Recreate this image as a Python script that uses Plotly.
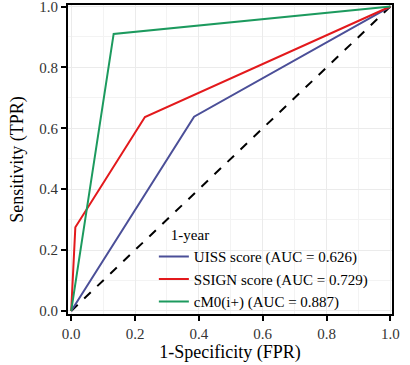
import plotly.graph_objects as go

uiss_fpr = [0.0, 0.385, 1.0]
uiss_tpr = [0.0, 0.638, 1.0]
ssign_fpr = [0.0, 0.013, 0.231, 1.0]
ssign_tpr = [0.0, 0.275, 0.637, 1.0]
cm0_fpr = [0.0, 0.133, 1.0]
cm0_tpr = [0.0, 0.910, 1.0]
ref_line = [0.0, 1.0]

names = ["UISS score (AUC = 0.626)", "SSIGN score (AUC = 0.729)", "cM0(i+) (AUC = 0.887)"]
colors = ["#4B4F98", "#E3191C", "#1C9A5E"]

fig = go.Figure()
fig.add_trace(go.Scatter(x=ref_line, y=ref_line, mode="lines", showlegend=False,
                         line=dict(color="black", width=2, dash="dash")))
for fx, ty, nm, c in zip([uiss_fpr, ssign_fpr, cm0_fpr], [uiss_tpr, ssign_tpr, cm0_tpr], names, colors):
    fig.add_trace(go.Scatter(x=fx, y=ty, mode="lines", name=nm, line=dict(color=c, width=2)))

font = "Liberation Serif, Times New Roman, serif"
axis_common = dict(
    range=[-0.01, 1.005], dtick=0.2, tickformat=".1f", automargin=False,
    ticklabeloverflow="allow",
    showline=True, linecolor="black", linewidth=2, mirror=True,
    ticks="outside", ticklen=5, tickwidth=2, tickcolor="black",
    showgrid=True, gridcolor="#EBEBEB", gridwidth=1, zeroline=False,
    minor=dict(dtick=0.1, showgrid=True, gridcolor="#F3F3F3", gridwidth=1),
    tickfont=dict(family=font, size=15, color="#333333"),
)
fig.update_xaxes(**axis_common, title=dict(text="1-Specificity (FPR)", font=dict(family=font, size=18, color="black"), standoff=4))
fig.update_yaxes(**axis_common, title=dict(text="Sensitivity (TPR)", font=dict(family=font, size=18, color="black"), standoff=11))

fig.update_layout(
    width=410, height=365,
    margin=dict(l=68, r=18, t=5, b=51, autoexpand=False),
    plot_bgcolor="white", paper_bgcolor="white",
    font=dict(family=font, size=15, color="black"),
    legend=dict(
        title=dict(text="\u00a0\u00a0\u00a0\u00a01-year", font=dict(family=font, size=15), side="top"),
        x=0.265, y=-0.012, xanchor="left", yanchor="bottom",
        bgcolor="rgba(0,0,0,0)", tracegroupgap=0, itemwidth=30,
        font=dict(family=font, size=15),
    ),
)

fig.write_html("out.html", config={"displayModeBar": False},
               post_script="document.body.style.margin='0';document.body.style.overflow='hidden';")
